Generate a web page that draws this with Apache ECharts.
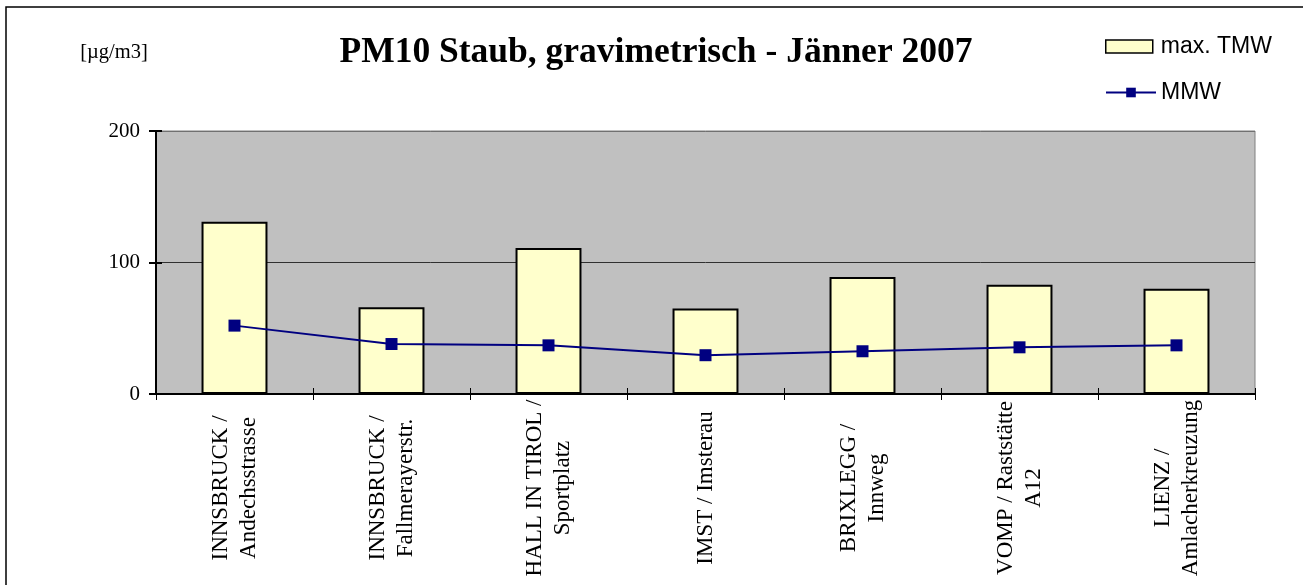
<!DOCTYPE html>
<html>
<head>
<meta charset="utf-8">
<script src="https://cdn.jsdelivr.net/npm/echarts@6/dist/echarts.min.js"></script>
<style>html,body{margin:0;padding:0;background:#fff;}#c{width:1303px;height:585px;}</style>
</head>
<body>
<div id="c"></div>
<script>
const categories = [
  'INNSBRUCK /\nAndechsstrasse',
  'INNSBRUCK /\nFallmerayerstr.',
  'HALL IN TIROL /\nSportplatz',
  'IMST / Imsterau',
  'BRIXLEGG /\nInnweg',
  'VOMP / Raststätte\nA12',
  'LIENZ /\nAmlacherkreuzung'
];
const maxTMW = [131, 66, 111, 65, 89, 83, 80];
const MMW = [52, 38, 37, 29.5, 32.5, 35.5, 37];
const yTicks = { min: 0, max: 200, interval: 100 };
const titleText = 'PM10 Staub, gravimetrisch - Jänner 2007';
const unitText = '[µg/m3]';
const seriesNames = ['max. TMW', 'MMW'];

const serif = '"Liberation Serif", "Times New Roman", serif';
const sans = '"Liberation Sans", Arial, sans-serif';

const chart = echarts.init(document.getElementById('c'), null, { renderer: 'canvas' });
chart.setOption({
  animation: false,
  backgroundColor: '#ffffff',
  graphic: [
    { type: 'rect', shape: { x: 6, y: 7, width: 1400, height: 700 },
      style: { fill: 'none', stroke: '#000', lineWidth: 1.5 }, silent: true },
    { type: 'text', x: 656, y: 53,
      style: { text: titleText, font: 'bold 35.5px ' + serif, fill: '#000', textAlign: 'center', textVerticalAlign: 'middle' } },
    { type: 'text', x: 114, y: 53,
      style: { text: unitText, font: '20.5px ' + serif, fill: '#000', textAlign: 'center', textVerticalAlign: 'middle' } }
  ],
  legend: [
    { data: [{ name: seriesNames[0], icon: 'rect' }], left: 1105, top: 35, itemWidth: 47, itemHeight: 13, itemGap: 0,
      itemStyle: { color: '#FFFFCC', borderColor: '#000', borderWidth: 1.5 },
      textStyle: { fontFamily: sans, fontSize: 23, color: '#000', padding: [0, 0, 0, 3] }, padding: 0 },
    { data: [seriesNames[1]], left: 1105, top: 81, itemWidth: 50, itemHeight: 12, itemGap: 0,
      textStyle: { fontFamily: sans, fontSize: 23, color: '#000', padding: [0, 0, 0, 0] }, padding: 0 }
  ],
  grid: {
    left: 156, right: 48, top: 131, bottom: 191,
    show: true, backgroundColor: '#C0C0C0', borderColor: '#808080', borderWidth: 1
  },
  xAxis: [
    {
      type: 'category', data: categories, position: 'bottom',
      axisLine: { lineStyle: { color: '#000', width: 2 } },
      axisTick: { show: true, length: 6, lineStyle: { color: '#000', width: 1 } },
      axisLabel: {
        interval: 0, rotate: 90, align: 'center', verticalAlign: 'middle', margin: 94,
        fontFamily: serif, fontSize: 23, lineHeight: 28, color: '#000'
      }
    },
    {
      type: 'category', data: categories, position: 'bottom', offset: 0,
      axisLine: { show: false },
      axisTick: { show: true, inside: true, length: 6, lineStyle: { color: '#000', width: 1 } },
      axisLabel: { show: false }
    }
  ],
  yAxis: [
    {
      type: 'value', min: yTicks.min, max: yTicks.max, interval: yTicks.interval, position: 'left',
      axisLine: { show: true, lineStyle: { color: '#000', width: 2 } },
      axisTick: { show: true, length: 7, lineStyle: { color: '#000', width: 2 } },
      axisLabel: { margin: 16, fontFamily: serif, fontSize: 21, color: '#000' },
      splitLine: { show: true, lineStyle: { color: ['#000', '#303030', '#707070'], width: 1 } }
    },
    {
      type: 'value', min: yTicks.min, max: yTicks.max, interval: yTicks.interval, position: 'left', offset: 0,
      axisLine: { show: false },
      axisTick: { show: true, inside: true, length: 6, lineStyle: { color: '#000', width: 2 } },
      axisLabel: { show: false },
      splitLine: { show: false }
    }
  ],
  series: [
    {
      name: seriesNames[0], type: 'bar', data: maxTMW, barWidth: '42%',
      itemStyle: { color: '#FFFFCC', borderColor: '#000', borderWidth: 2 }
    },
    {
      name: seriesNames[1], type: 'line', data: MMW,
      symbol: 'rect', symbolSize: 12,
      lineStyle: { color: '#000080', width: 2 },
      itemStyle: { color: '#000080' }
    }
  ]
});
</script>
</body>
</html>
